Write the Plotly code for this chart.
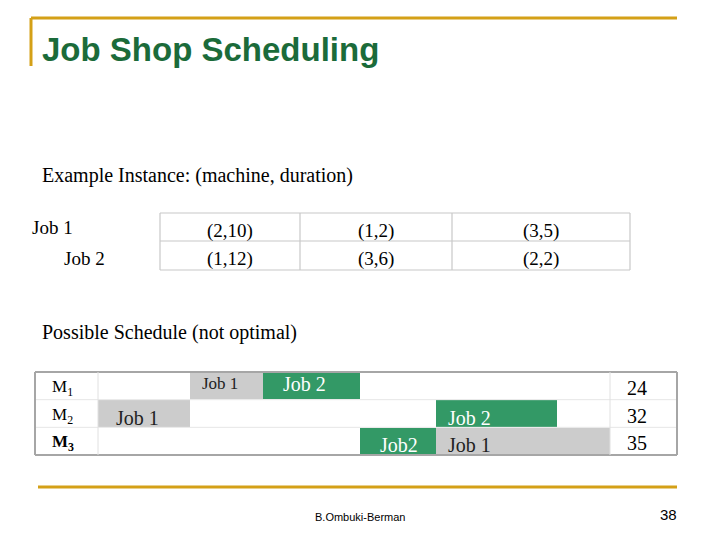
import plotly.graph_objects as go

OFF = 8
W, H = 720 - 2 * OFF, 540 - 2 * OFF
def px(x): return (x - OFF) / W
def py(y): return 1 - (y - OFF) / H

GOLD = "#d4a017"
GREEN = "#339966"
GRAY = "#cccccc"
BORDER = "#a6a6a6"
TITLE = "#1b6b3a"

# Instance table
jobs = ["Job 1", "Job 2"]
ops = [["(2,10)", "(1,2)", "(3,5)"], ["(1,12)", "(3,6)", "(2,2)"]]

# Schedule (horizontal position units)
machines = ["M<sub>1</sub>", "M<sub>2</sub>", "<b>M<sub>3</sub></b>"]
bar_machine = [0, 0, 1, 1, 2, 2]
bar_job = ["Job 1", "Job 2", "Job 1", "Job 2", "Job2", "Job 1"]
bar_start = [190, 263, 98, 436, 360, 436]
bar_end = [263, 360, 190, 557, 436, 610]
bar_color = [GRAY, GREEN, GRAY, GREEN, GREEN, GRAY]
bar_text_color = ["#222", "white", "#222", "white", "white", "#222"]
makespan = ["24", "32", "35"]

fig = go.Figure()
gy0, gy1 = 372, 455
rh = (gy1 - gy0) / 3
gx0, gx1 = 35, 677
for i in range(len(bar_job)):
    m = bar_machine[i]
    fig.add_trace(go.Bar(
        x=[bar_end[i] - bar_start[i]], base=[bar_start[i]], y=[m],
        orientation="h", width=0.98, marker=dict(color=bar_color[i], line_width=0),
        showlegend=False, hoverinfo="skip"))
fig.update_layout(
    width=W, height=H, margin=dict(l=0, r=0, t=0, b=0),
    paper_bgcolor="white", plot_bgcolor="white", bargap=0, barmode="overlay",
    xaxis=dict(domain=[px(gx0), px(gx1)], range=[gx0, gx1], visible=False, fixedrange=True),
    yaxis=dict(domain=[py(gy1), py(gy0)], range=[2.5, -0.5], visible=False, fixedrange=True),
)

shapes = []
ann = []
def line(x0, y0, x1, y1, color, w):
    shapes.append(dict(type="line", xref="paper", yref="paper", x0=px(x0), y0=py(y0),
                       x1=px(x1), y1=py(y1), line=dict(color=color, width=w)))
def text(x, y, s, size, color="black", font="Liberation Serif", xa="left"):
    ann.append(dict(xref="paper", yref="paper", x=px(x), y=py(y), text=s, showarrow=False,
                    xanchor=xa, yanchor="middle", font=dict(size=size, color=color, family=font)))

# decoration
line(31, 18, 677, 18, GOLD, 3)
line(31, 18, 31, 66, GOLD, 3)
line(38, 487, 677, 487, GOLD, 3)
text(40, 50, "<b>Job Shop Scheduling</b>", 33, TITLE, "Liberation Sans")
text(40, 175, "Example Instance: (machine, duration)", 20)

# instance table
cols = [160, 300, 452, 630]
ty0, tym, ty1 = 213, 241, 270
for yy in (ty0, tym, ty1):
    line(cols[0], yy, cols[-1], yy, "#c8c8c8", 1.2)
for c in cols:
    line(c, ty0, c, ty1, "#c8c8c8", 1.2)
text(30, 227, jobs[0], 19)
text(62, 259, jobs[1], 19)
for j in range(3):
    cx = (cols[j] + cols[j + 1]) / 2
    text(cx, 231, ops[0][j], 19, xa="center")
    text(cx, 259, ops[1][j], 19, xa="center")

text(40, 332, "Possible Schedule (not optimal)", 20)

# gantt grid
for k in range(4):
    edge = k in (0, 3)
    line(gx0, gy0 + k * rh, gx1, gy0 + k * rh, BORDER if edge else "#e6e6e6", 2 if edge else 1)
line(gx0, gy0, gx0, gy1, BORDER, 2)
line(gx1, gy0, gx1, gy1, BORDER, 2)
line(98, gy0, 98, gy1, "#e0e0e0", 1)
line(610, gy0, 610, gy1, "#e0e0e0", 1)
for m in range(3):
    yc = gy0 + (m + 0.5) * rh
    text(50, yc + 2, machines[m], 17)
    text(637, yc + 2, makespan[m], 20, xa="center")
for i in range(len(bar_job)):
    m = bar_machine[i]
    yc = gy0 + (m + 0.5) * rh
    size = 17 if i == 0 else 20
    off = -2 if m == 0 else 4
    x = bar_start[i] + 10
    if bar_job[i] == "Job2":
        x = bar_start[i] + 18
    if i == 2:
        x = 114
    if i == 1:
        x = 281
    text(x, yc + off, bar_job[i], size, bar_text_color[i])

text(360, 517, "B.Ombuki-Berman", 11, font="Liberation Sans", xa="center")
text(668, 514, "38", 15, font="Liberation Sans", xa="center")

fig.update_layout(shapes=shapes, annotations=ann)
fig.write_html("out.html")
